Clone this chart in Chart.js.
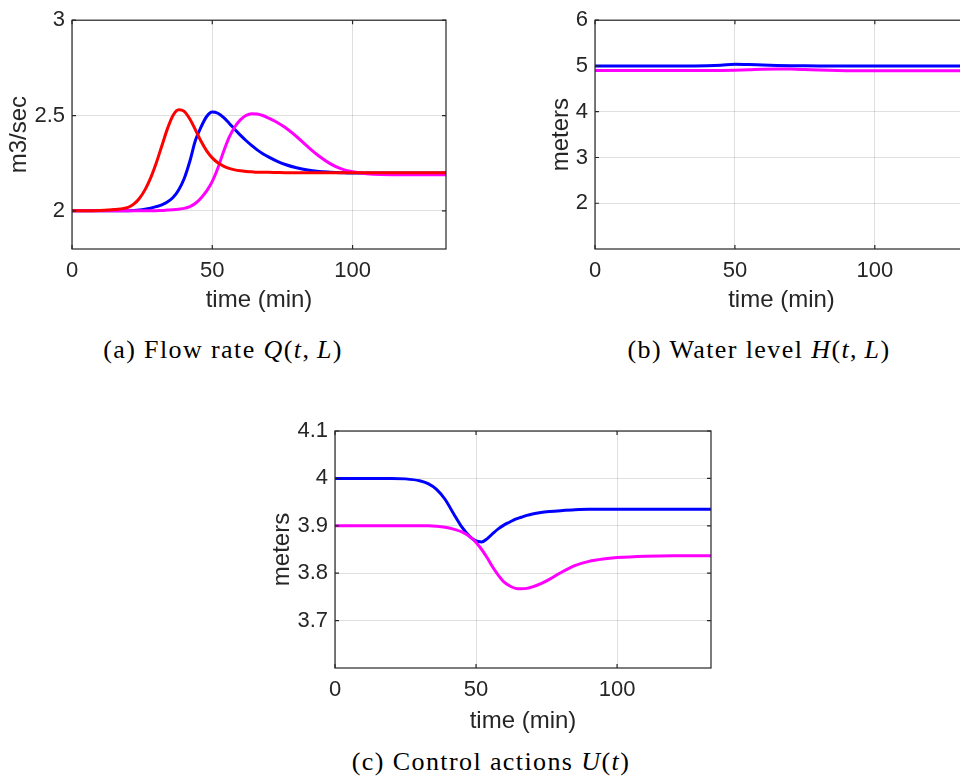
<!DOCTYPE html>
<html><head><meta charset="utf-8">
<script src="https://cdn.jsdelivr.net/npm/chart.js@4/dist/chart.umd.min.js"></script>
<style>
html,body{margin:0;padding:0;width:960px;height:778px;overflow:hidden;background:#fff;}
canvas{position:absolute;}
.cap{position:absolute;font-family:"Liberation Serif","Times New Roman",serif;font-size:26px;letter-spacing:1.4px;color:#000;white-space:nowrap;text-align:center;line-height:30px;}
</style></head><body>
<canvas id="ca" width="460" height="330" style="left:0;top:0"></canvas>
<canvas id="cb" width="480" height="330" style="left:500px;top:0"></canvas>
<canvas id="cc" width="470" height="345" style="left:260px;top:400px"></canvas>
<div class="cap" style="left:23px;top:335px;width:400px">(a) Flow rate <i>Q</i>(<i>t</i>,&thinsp;<i>L</i>)</div>
<div class="cap" style="left:559px;top:335px;width:400px">(b) Water level <i>H</i>(<i>t</i>,&thinsp;<i>L</i>)</div>
<div class="cap" style="left:291px;top:747px;width:400px">(c) Control actions <i>U</i>(<i>t</i>)</div>
<script>
// ---- data ----
const xTicks = [0, 50, 100];
const tMax = 133.3;

// (a) flow rate Q(t,L)
const tA = [0,5,10,15,20,22,24,26,28,30,32,34,36,38,40,42,44,46,48,50,52,54,56,58,60,62,64,66,68,70,73,76,80,84,88,92,96,100,105,110,120,133.3];
const qRed = [2.0,2.0,2.002,2.007,2.018, 2.035,2.065,2.11,2.172,2.25, 2.34,2.43,2.50,2.53,2.522, 2.482,2.425,2.365,2.315,2.278, 2.252,2.235,2.223,2.215,2.21, 2.207,2.205,2.203,2.202,2.202, 2.201,2.2,2.2,2.2,2.2, 2.2,2.2,2.2,2.2,2.2, 2.2,2.2];
const qBlue = [2.0,2.0,2.0,2.0,2.001, 2.002,2.004,2.008,2.014,2.022, 2.032,2.047,2.07,2.11,2.17, 2.26,2.37,2.44,2.495,2.518, 2.512,2.49,2.46,2.428,2.397, 2.369,2.343,2.32,2.30,2.283, 2.261,2.243,2.226,2.214,2.207, 2.203,2.2,2.198,2.198,2.198, 2.198,2.198];
const qMag = [2.0,2.0,2.0,2.0,2.0, 2.0,2.0,2.0,2.0,2.001, 2.002,2.004,2.006,2.009,2.013, 2.022,2.04,2.068,2.105,2.155, 2.225,2.31,2.385,2.44,2.477, 2.50,2.51,2.508,2.50,2.487, 2.465,2.437,2.39,2.337,2.288, 2.248,2.22,2.205,2.195,2.191, 2.19,2.19];
const yTicksA = [2, 2.5, 3];

// (b) water level H(t,L)
const tB = [0,20,30,40,45,50,55,60,65,70,75,80,90,100,110,120,133.3];
const hBlue = [5.0,5.0,5.0,5.005,5.015,5.035,5.03,5.02,5.012,5.006,5.002,5.0,5.0,5.0,5.0,5.0,5.0];
const hMag = [4.9,4.9,4.9,4.9,4.902,4.908,4.918,4.93,4.935,4.932,4.922,4.91,4.896,4.893,4.893,4.893,4.893];
const yTicksB = [2, 3, 4, 5, 6];

// (c) control actions U(t)
const tC = [0,10,20,25,30,33,36,39,42,45,48,50,52,54,56,58,60,62,64,66,68,70,73,76,80,85,90,95,100,110,120,133.3];
const uBlue = [4.0,4.0,4.0,3.999,3.995, 3.989,3.977,3.956,3.926,3.897, 3.876,3.868,3.866,3.873,3.884, 3.894,3.902,3.908,3.914,3.918, 3.922,3.925,3.928,3.930,3.932, 3.934,3.935,3.935,3.935,3.935, 3.935,3.935];
const uMag = [3.9,3.9,3.9,3.9,3.9, 3.9,3.899,3.897,3.893,3.887, 3.876,3.865,3.85,3.832,3.812, 3.795,3.781,3.773,3.768,3.767, 3.768,3.771,3.778,3.787,3.801, 3.816,3.825,3.830,3.833,3.836, 3.837,3.837];
const yTicksC = [3.7, 3.8, 3.9, 4, 4.1];

// ---- styling ----
const FONT = '"Liberation Sans", Arial, Helvetica, sans-serif';
const AX = '#262626';
const GRID = 'rgba(38,38,38,0.15)';
const RED = '#ff0000', BLUE = '#0000ff', MAG = '#ff00ff';

const boxPlugin = {
  id: 'box',
  afterDraw(chart) {
    const {ctx, chartArea: a, scales: {x, y}} = chart;
    ctx.save();
    ctx.strokeStyle = AX;
    ctx.lineWidth = 1.2;
    ctx.strokeRect(a.left, a.top, a.right - a.left, a.bottom - a.top);
    const L = 4;
    ctx.beginPath();
    x.ticks.forEach(t => {
      const px = x.getPixelForValue(t.value);
      ctx.moveTo(px, a.bottom); ctx.lineTo(px, a.bottom - L);
      ctx.moveTo(px, a.top); ctx.lineTo(px, a.top + L);
    });
    y.ticks.forEach(t => {
      const py = y.getPixelForValue(t.value);
      ctx.moveTo(a.left, py); ctx.lineTo(a.left + L, py);
      ctx.moveTo(a.right, py); ctx.lineTo(a.right - L, py);
    });
    ctx.stroke();
    ctx.restore();
  }
};

function makeChart(id, t, series, yTicks, ymin, ymax, yTitle, lay) {
  const datasets = series.map(s => ({
    data: t.map((xv, i) => ({x: xv, y: s.values[i]})),
    borderColor: s.color,
    borderWidth: 3,
    pointRadius: 0,
    fill: false,
    cubicInterpolationMode: 'monotone'
  }));
  return new Chart(document.getElementById(id), {
    type: 'line',
    data: {datasets},
    options: {
      responsive: false,
      animation: false,
      events: [],
      layout: {padding: {top: lay.top, right: lay.right, left: 0, bottom: 0}},
      plugins: {legend: {display: false}, tooltip: {enabled: false}},
      scales: {
        x: {
          type: 'linear', min: 0, max: tMax,
          afterBuildTicks: sc => { sc.ticks = xTicks.map(v => ({value: v})); },
          afterFit: sc => { sc.height = lay.xh; },
          grid: {color: GRID, drawTicks: false, lineWidth: 1},
          border: {display: false},
          ticks: {font: {family: FONT, size: 22}, color: AX, padding: 9, maxRotation: 0, callback: v => String(v)},
          title: {display: true, text: 'time (min)', font: {family: FONT, size: 24}, color: AX, padding: {top: 0, bottom: lay.xtb}}
        },
        y: {
          type: 'linear', min: ymin, max: ymax,
          afterBuildTicks: sc => { sc.ticks = yTicks.map(v => ({value: v})); },
          afterFit: sc => { sc.width = lay.yw; },
          grid: {color: GRID, drawTicks: false, lineWidth: 1},
          border: {display: false},
          ticks: {font: {family: FONT, size: 22}, color: AX, padding: 7, callback: v => String(v)},
          title: {display: true, text: yTitle, font: {family: FONT, size: 24}, color: AX, padding: {top: lay.ytp, bottom: 0}}
        }
      }
    },
    plugins: [boxPlugin]
  });
}

makeChart('ca', tA, [
  {values: qRed, color: RED},
  {values: qMag, color: MAG},
  {values: qBlue, color: BLUE}
], yTicksA, 1.8, 3, 'm3/sec', {top: 12, right: 14, xh: 81, yw: 72, ytp: 5, xtb: 15});

makeChart('cb', tB, [
  {values: hBlue, color: BLUE},
  {values: hMag, color: MAG}
], yTicksB, 1, 6, 'meters', {top: 17, right: 12, xh: 81, yw: 95, ytp: 47, xtb: 15});

makeChart('cc', tC, [
  {values: uMag, color: MAG},
  {values: uBlue, color: BLUE}
], yTicksC, 3.6, 4.1, 'meters', {top: 31, right: 19, xh: 77, yw: 75, ytp: 8, xtb: 9});
</script>
</body></html>
